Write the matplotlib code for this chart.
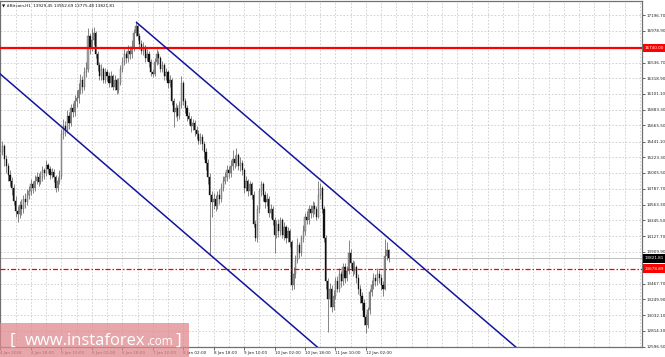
import numpy as np
import matplotlib
matplotlib.use("Agg")
import matplotlib.pyplot as plt
from matplotlib.patches import Rectangle
import matplotlib.transforms as mtransforms

# ---------------- data ----------------
title_text = "\u25BC #Bitcoin,H1  13929.45 13952.69 13775.48 13821.81"
first_hour = 2          # hours since 4 Jan 2018 00:00 (H1 bars)
first_open = 15250

closes = [
    15300, 15380, 15200, 15100, 14980, 14900, 14800, 14620, 14480, 14430,
    14560, 14500, 14650, 14600, 14700, 14760, 14850, 14800, 14900, 14950,
    14880, 14950, 15050, 15000, 15120, 15060, 14980, 15020, 14950, 14800,
    14900, 14960, 15550, 15650, 15600, 15800, 15700, 15900, 15850, 16000,
    16050, 16150, 16300, 16200, 16400, 16450, 16900, 16750, 16850, 16950,
    16650, 16500, 16350, 16450, 16300, 16400, 16350, 16250, 16350, 16200,
    16300, 16150, 16250, 16450, 16550, 16650, 16600, 16700, 16650, 16750,
    16950, 17050, 16900, 16800, 16700, 16750, 16600, 16650, 16550, 16400,
    16380, 16550, 16650, 16600, 16450, 16500, 16350, 16400, 16250, 16300,
    16000, 15850, 15900, 15800, 15950, 16250, 16000, 15900, 15800, 15750,
    15650, 15700, 15600, 15550, 15450, 15500, 15400, 15300, 15150, 14950,
    14700, 14600, 14650, 14550, 14700, 14650, 14800, 14900, 14950, 15050,
    15000, 15100, 15200, 15150, 15250, 15100, 15150, 15050, 14800, 14900,
    14750, 14850, 14700, 14300, 14100, 14500, 14750, 14850, 14700, 14600,
    14650, 14450, 14500, 14350, 14150, 14300, 14200, 14350, 14150, 14250,
    14100, 14200, 14050, 13450, 13600, 13800, 14000, 13900, 14100, 14200,
    14400, 14350, 14500, 14450, 14550, 14500, 14400, 14700, 14800, 14500,
    14100, 13500, 13250, 13400, 13150, 13300, 13500, 13400, 13600, 13500,
    13700, 13550, 13650, 13900, 13750, 13650, 13700, 13550, 13400, 13300,
    13200, 13000, 12900, 13100, 13350, 13450, 13550, 13500, 13600, 13550,
    13450, 13400, 13850, 13929.45, 13821.81,
]
highs = [
    15420, 15450, 15400, 15250, 15150, 15050, 14950, 14850, 14680, 14550,
    14620, 14640, 14700, 14720, 14780, 14830, 14920, 14900, 14980, 15020,
    15000, 15030, 15100, 15080, 15180, 15150, 15100, 15080, 15060, 14980,
    14950, 15050, 15620, 15750, 15720, 15880, 15850, 15960, 15980, 16080,
    16150, 16250, 16380, 16350, 16480, 16550, 17020, 16950, 17010, 17030,
    16980, 16700, 16550, 16520, 16480, 16460, 16450, 16400, 16420, 16380,
    16360, 16320, 16320, 16500, 16620, 16720, 16700, 16780, 16760, 16850,
    17000, 17110, 17080, 16950, 16850, 16820, 16780, 16720, 16700, 16580,
    16450, 16600, 16720, 16700, 16630, 16560, 16530, 16460, 16430, 16360,
    16320, 16050, 15980, 15950, 16000, 16350, 16280, 16050, 15950, 15850,
    15800, 15760, 15740, 15660, 15600, 15560, 15540, 15450, 15350, 15200,
    15000, 14750, 14720, 14700, 14760, 14780, 14860, 14960, 15020, 15120,
    15100, 15180, 15330, 15260, 15350, 15280, 15220, 15180, 15080, 14960,
    14920, 14900, 14880, 14750, 14350, 14560, 14800, 14890, 14880, 14750,
    14720, 14680, 14580, 14540, 14400, 14350, 14360, 14400, 14380, 14320,
    14280, 14260, 14230, 14080, 13700, 13860, 14100, 14050, 14150, 14280,
    14450, 14480, 14560, 14560, 14620, 14600, 14550, 14900, 14870, 14830,
    14550, 14150, 13550, 13480, 13450, 13380, 13560, 13580, 13680, 13650,
    13760, 13750, 13720, 14080, 13950, 13800, 13780, 13730, 13600, 13450,
    13350, 13250, 13050, 13150, 13400, 13520, 13620, 13600, 13680, 13660,
    13600, 13500, 14090, 14050, 13952.69,
]
lows = [
    15150, 15250, 15100, 15000, 14900, 14820, 14700, 14560, 14400, 14330,
    14380, 14420, 14450, 14520, 14560, 14650, 14700, 14720, 14760, 14850,
    14820, 14850, 14900, 14920, 14960, 15000, 14920, 14930, 14880, 14740,
    14760, 14850, 14920, 15480, 15520, 15560, 15620, 15650, 15780, 15800,
    15920, 15980, 16100, 16120, 16150, 16330, 16400, 16650, 16700, 16780,
    16600, 16420, 16300, 16300, 16250, 16260, 16280, 16200, 16200, 16150,
    16160, 16100, 16120, 16220, 16400, 16500, 16530, 16550, 16580, 16600,
    16700, 16900, 16850, 16720, 16650, 16640, 16550, 16560, 16480, 16350,
    16330, 16350, 16500, 16520, 16400, 16400, 16300, 16300, 16180, 16200,
    15950, 15640, 15780, 15720, 15760, 15900, 15950, 15830, 15720, 15680,
    15580, 15600, 15520, 15480, 15400, 15400, 15330, 15200, 15050, 14850,
    13870, 14400, 14500, 14480, 14500, 14580, 14600, 14750, 14850, 14900,
    14930, 14950, 15050, 15080, 15100, 15050, 15030, 14980, 14720, 14750,
    14680, 14700, 14640, 14250, 14060, 14050, 14450, 14680, 14620, 14520,
    14540, 14400, 14380, 14280, 13900, 14100, 14120, 14150, 14100, 14080,
    14030, 14050, 13980, 13380, 13400, 13550, 13750, 13820, 13850, 14050,
    14150, 14300, 14300, 14380, 14400, 14430, 14350, 14380, 14650, 14450,
    14050, 13400, 12800, 13150, 13080, 13100, 13250, 13350, 13350, 13420,
    13450, 13480, 13500, 13600, 13680, 13580, 13600, 13480, 13330, 13200,
    13100, 12900, 12780, 12850, 13050, 13300, 13400, 13430, 13450, 13480,
    13380, 13300, 13380, 13800, 13775.48,
]

# channel lines: (hour, price) end points
upper_channel = [(73.2, 17100), (290.0, 12200)]
lower_channel = [(0.0, 16420), (190.0, 12100)]

resistance_level = 16740.00
support_level = 13678.89
current_price = 13821.81

ytick_labels = ["17196.70", "16978.90", "16536.70", "16318.90", "16101.10",
                "15883.30", "15665.50", "15441.10", "15223.30", "15005.50",
                "14787.70", "14563.30", "14345.50", "14127.70", "13909.90",
                "13467.70", "13249.90", "13032.10", "12814.30", "12596.50"]
xtick_hours = [2, 18, 34, 50, 66, 82, 98, 114, 130, 146, 162, 178, 194]
xtick_labels = ["4 Jan 2018", "4 Jan 18:00", "5 Jan 10:00", "6 Jan 02:00",
                "6 Jan 18:00", "7 Jan 10:00", "8 Jan 02:00", "8 Jan 18:00",
                "9 Jan 10:00", "10 Jan 02:00", "10 Jan 18:00", "11 Jan 10:00",
                "12 Jan 02:00"]

# ---------------- figure ----------------
W, H = 665, 357
fig = plt.figure(figsize=(W / 100, H / 100), dpi=100)
fig.patch.set_facecolor("white")
ax = fig.add_axes([0 / W, (H - 347) / H, 642 / W, 346 / H])
ax.set_facecolor("white")

xlim = (1.74, 339.1)
ylim = (12590, 17391)
ax.set_xlim(*xlim)
ax.set_ylim(*ylim)

hours = np.arange(first_hour, first_hour + len(closes))
c = np.array(closes, dtype=float)
o = np.concatenate([[first_open], c[:-1]])
hi = np.array(highs, dtype=float)
lo = np.array(lows, dtype=float)

# grid
yt = [float(v) for v in ytick_labels]
for v in yt:
    ax.axhline(v, color="#c8c8c8", lw=0.55, ls=(0, (2.2, 2.2)), zorder=0)
for hgrid in np.arange(xtick_hours[0], xlim[1], 8):
    ax.axvline(hgrid, color="#c8c8c8", lw=0.55, ls=(0, (2.2, 2.2)), zorder=0)

# candles
ax.vlines(hours, lo, hi, color="#555555", lw=0.5, zorder=2)
up = c >= o
ax.bar(hours[up], c[up] - o[up], bottom=o[up], width=0.6,
       color="#a8a8a8", edgecolor="#4a4a4a", lw=0.25, zorder=3)
ax.bar(hours[~up], c[~up] - o[~up], bottom=o[~up], width=0.6,
       color="#101010", edgecolor="#101010", lw=0.25, zorder=3)

# levels
ax.axhline(resistance_level, color="#ff0000", lw=1.6, zorder=4)
ax.axhline(support_level, color="#ff0000", lw=0.9,
           ls=(0, (4, 1.6, 1.2, 1.6)), zorder=4)
ax.axhline(current_price, color="#c0c0c0", lw=0.7, zorder=1)

# channel
for line in (upper_channel, lower_channel):
    xs, ys = zip(*line)
    ax.plot(xs, ys, color="#14149c", lw=1.1, zorder=5, solid_capstyle="butt")

# axes styling
for s in ax.spines.values():
    s.set_color("#707070")
    s.set_linewidth(0.9)
ax.yaxis.tick_right()
ax.set_yticks(yt, ytick_labels)
ax.tick_params(axis="y", length=2, width=0.5, pad=1.5, labelsize=3,
               colors="#222222")
ax.set_xticks(xtick_hours, xtick_labels)
ax.tick_params(axis="x", length=2, width=0.5, pad=1.2, labelsize=3,
               colors="#222222")
for lab in ax.get_xticklabels():
    lab.set_ha("left")

# price boxes on right scale
trans = mtransforms.blended_transform_factory(ax.transAxes, ax.transData)
for val, bg in ((resistance_level, "#ff0000"), (current_price, "#000000"),
                (support_level, "#ff0000")):
    ax.text(1.0045, val, f"{val:.2f}", transform=trans, fontsize=3,
            color="white", va="center", ha="left", clip_on=False, zorder=10,
            bbox=dict(boxstyle="square,pad=0.55", fc=bg, ec="none"))

# title
ax.text(0.003, 0.993, title_text, transform=ax.transAxes, fontsize=3,
        va="top", ha="left", color="#111111",
        family=["DejaVu Sans"])

# watermark
fig.patches.append(Rectangle((0, 0), 189 / W, 34 / H, transform=fig.transFigure,
                             fc="#e08a8e", ec="none", alpha=0.75, zorder=20))
base_y = 12 / H
fig.text(10 / W, base_y, "[", fontsize=12.5, color="white", family="Open Sans",
         va="baseline", ha="left", zorder=21)
t_www = fig.text(25 / W, base_y, "www.instaforex", fontsize=12,
                 color="white", family="Open Sans", va="baseline", ha="left",
                 zorder=21)
fig.canvas.draw()
bb = t_www.get_window_extent(renderer=fig.canvas.get_renderer())
x_com = bb.x1 / W + 0.5 / W
t_com = fig.text(x_com, base_y, ".com", fontsize=8.5, color="white",
                 family="Open Sans", va="baseline", ha="left", zorder=21)
fig.canvas.draw()
bb2 = t_com.get_window_extent(renderer=fig.canvas.get_renderer())
fig.text(bb2.x1 / W + 3 / W, base_y, "]", fontsize=12.5, color="white",
         family="Open Sans", va="baseline", ha="left", zorder=21)

fig.savefig("out.png", dpi=100)
